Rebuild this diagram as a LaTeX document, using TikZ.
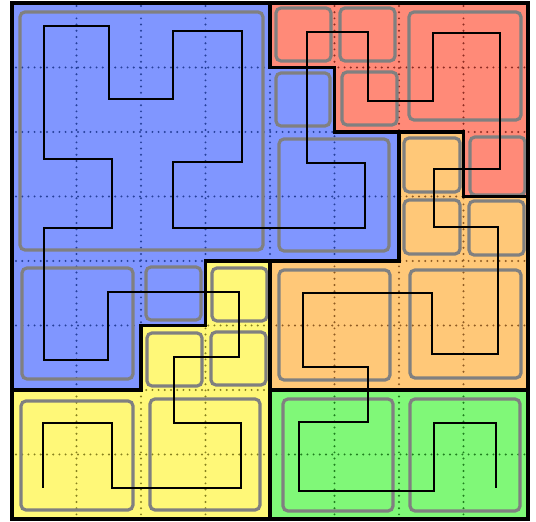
\documentclass[tikz,border=0pt]{standalone}
\definecolor{cblue}{HTML}{8096FF}
\definecolor{cred}{HTML}{FF8A78}
\definecolor{corange}{HTML}{FFC878}
\definecolor{cyellow}{HTML}{FFF878}
\definecolor{cgreen}{HTML}{80F878}
\definecolor{dblue}{HTML}{26409A}
\definecolor{dred}{HTML}{8E2C22}
\definecolor{dorange}{HTML}{8E5A22}
\definecolor{dyellow}{HTML}{86801E}
\definecolor{dgreen}{HTML}{1E7E1E}
\tikzset{
  regionline/.style={draw=black, line width=1.7pt, line join=miter},
  gridline/.style={line width=1.1pt, line cap=round, dash pattern=on 0pt off 3.1pt},
  block/.style={draw=gray, line width=1.6pt, rounded corners=2.5pt},
  curve/.style={draw=black, line width=1pt, line join=miter},
}
\newcommand{\dotgrid}[1]{%
  \foreach \k in {1,...,7} {
    \draw[gridline,#1] ({12+64.5*\k},6) -- ({12+64.5*\k},519);
    \draw[gridline,#1] (16,{3+64.5*\k}) -- (528,{3+64.5*\k});
  }}
\begin{document}
\begin{tikzpicture}[x=0.5pt,y=-0.5pt]
\useasboundingbox (0,0) rectangle (536,522);
% region outlines
\def\blueR{(12,3)--(270,3)--(270,67.5)--(334.5,67.5)--(334.5,132)--(399,132)--(399,261)--(205.5,261)--(205.5,325.5)--(141,325.5)--(141,390)--(12,390)--cycle}
\def\redR{(270,3)--(528,3)--(528,196.5)--(463.5,196.5)--(463.5,132)--(334.5,132)--(334.5,67.5)--(270,67.5)--cycle}
\def\orangeR{(399,132)--(463.5,132)--(463.5,196.5)--(528,196.5)--(528,390)--(270,390)--(270,261)--(399,261)--cycle}
\def\yellowR{(205.5,261)--(270,261)--(270,519)--(12,519)--(12,390)--(141,390)--(141,325.5)--(205.5,325.5)--cycle}
\def\greenR{(270,390)--(528,390)--(528,519)--(270,519)--cycle}
\fill[cblue] \blueR;
\fill[cred] \redR;
\fill[corange] \orangeR;
\fill[cyellow] \yellowR;
\fill[cgreen] \greenR;
% dotted grid, coloured by region
\begin{scope}\clip \blueR; \dotgrid{dblue} \end{scope}
\begin{scope}\clip \redR; \dotgrid{dred} \end{scope}
\begin{scope}\clip \orangeR; \dotgrid{dorange} \end{scope}
\begin{scope}\clip \yellowR; \dotgrid{dyellow} \end{scope}
\begin{scope}\clip \greenR; \dotgrid{dgreen} \end{scope}
% gray blocks
\draw[block] (20,12) rectangle (263,250);
\draw[block] (276,8) rectangle (331,61);
\draw[block] (340,8) rectangle (395,61);
\draw[block] (276,73) rectangle (330,126);
\draw[block] (342,72) rectangle (397,125);
\draw[block] (409,12) rectangle (521,120);
\draw[block] (279,139) rectangle (389,251);
\draw[block] (404,138) rectangle (460,192);
\draw[block] (470,137) rectangle (525,195);
\draw[block] (404,200) rectangle (460,254);
\draw[block] (469,201) rectangle (524,255);
\draw[block] (22,268) rectangle (133,379);
\draw[block] (146,267) rectangle (201,320);
\draw[block] (212,268) rectangle (267,321);
\draw[block] (147,333) rectangle (202,386);
\draw[block] (211,332) rectangle (266,385);
\draw[block] (21,401) rectangle (133,510);
\draw[block] (150,399) rectangle (260,510);
\draw[block] (279,270) rectangle (390,380);
\draw[block] (410,270) rectangle (521,378);
\draw[block] (283,399) rectangle (393,511);
\draw[block] (410,399) rectangle (520,511);
% region borders
\draw[regionline] \blueR;
\draw[regionline] \redR;
\draw[regionline] \orangeR;
\draw[regionline] \yellowR;
\draw[regionline] \greenR;
% curve
\draw[curve] (43,488) -- (43,423) -- (112,423) -- (112,488) -- (241,488) -- (241,423)
  -- (174,423) -- (174,357) -- (239,357) -- (239,292) -- (108,292) -- (108,360)
  -- (44,360) -- (44,228) -- (112,228) -- (112,159) -- (44,159) -- (44,26)
  -- (109,26) -- (109,99) -- (173,99) -- (173,31) -- (242,31) -- (242,162)
  -- (173,162) -- (173,228) -- (365,228) -- (365,163) -- (307,163) -- (307,32)
  -- (368,32) -- (368,101) -- (433,101) -- (433,33) -- (500,33) -- (500,169)
  -- (434,169) -- (434,227) -- (498,227) -- (498,354) -- (432,354) -- (432,293)
  -- (303,293) -- (303,367) -- (368,367) -- (368,422) -- (299,422) -- (299,491)
  -- (434,491) -- (434,423) -- (496,423) -- (496,488);
\end{tikzpicture}
\end{document}
